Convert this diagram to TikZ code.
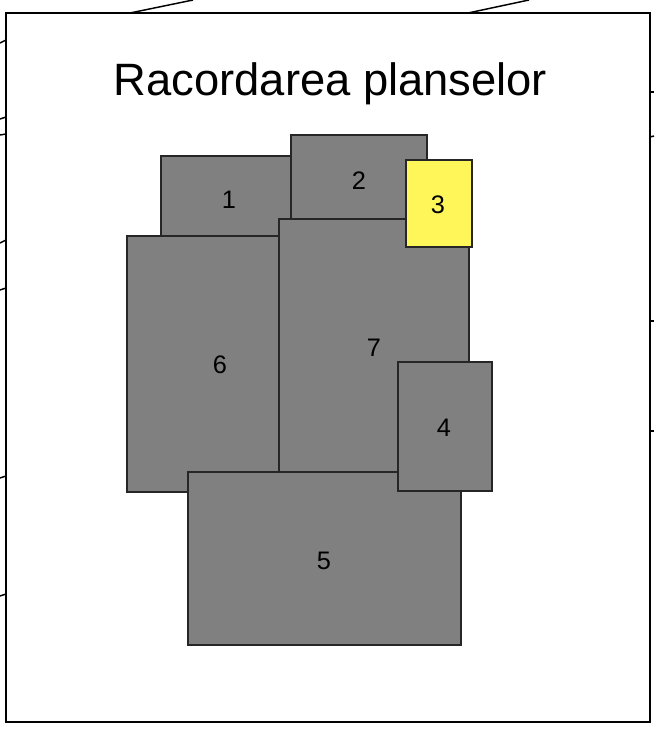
\documentclass[tikz,border=0pt]{standalone}
\usepackage{fontspec}
\setsansfont{Liberation Sans}
\usepackage{xcolor}
\definecolor{sheetgray}{HTML}{808080}
\definecolor{sheetyellow}{HTML}{FFF65A}
\definecolor{sheetedge}{HTML}{262626}

\begin{document}
\begin{tikzpicture}[x=0.75pt,y=-0.75pt,font=\sffamily,
  sheet/.style={fill=sheetgray,draw=sheetedge,line width=0.9pt},
  sheetno/.style={inner sep=0pt,font=\sffamily\fontsize{19}{19}\selectfont},
  spill/.style={black,line width=1.1pt}]
\useasboundingbox (0,0) rectangle (654,732);
\fill[white] (0,0) rectangle (654,732);
% lines of the neighbouring sheets, cut at the frame
\draw[spill] (130,13) -- (193,0);
\draw[spill] (468,13) -- (529,0);
\draw[spill] (0,43) -- (6,40);
\draw[spill] (0,119) -- (6,117);
\draw[spill] (0,135) -- (6,134);
\draw[spill] (0,243) -- (6,240);
\draw[spill] (0,290) -- (6,288);
\draw[spill] (0,478) -- (6,476);
\draw[spill] (0,596) -- (6,594);
\draw[spill] (650,92) -- (654,92);
\draw[spill] (650,137) -- (654,136);
\draw[spill] (650,321) -- (654,321);
\draw[spill] (650,431) -- (654,431);
% frame
\draw[black,line width=1.8pt,fill=white] (6,13) rectangle (650,722);
\node[anchor=base,inner sep=0pt,font=\sffamily\fontsize{34}{34}\selectfont] (title) at (330.5,95) {Racordarea planselor};
% sheets
\draw[sheet] (161,156) rectangle (291,236);
\draw[sheet] (291,135) rectangle (427,219);
\draw[sheet] (127,236) rectangle (279,492);
\draw[sheet] (279,219) rectangle (469,472);
\draw[sheet] (188,472) rectangle (461,645);
\draw[sheet] (398,362) rectangle (492,491);
\draw[sheet,fill=sheetyellow] (406,160) rectangle (472,247);
\node[sheetno] (s1) at (229,200) {1};
\node[sheetno] (s2) at (359,181) {2};
\node[sheetno] (s3) at (438,205) {3};
\node[sheetno] (s4) at (444,428) {4};
\node[sheetno] (s5) at (324,561) {5};
\node[sheetno] (s6) at (220,365) {6};
\node[sheetno] (s7) at (374,348) {7};
\end{tikzpicture}
\end{document}
